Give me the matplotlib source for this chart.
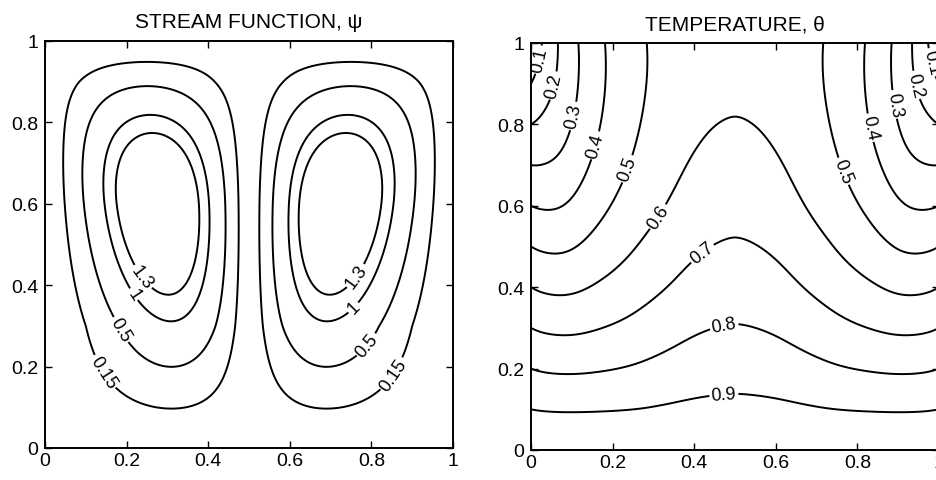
import numpy as np
import matplotlib.pyplot as plt
from matplotlib.ticker import FormatStrFormatter

plt.rcParams['font.family'] = ['Liberation Sans', 'DejaVu Sans']

# ---- stream function (two cells) ----
psi_levels = [0.15, 0.5, 1, 1.3]
psi_max = 1.89          # estimated peak value
psi_peak_y = 0.6        # height of the cell centres
psi_peak_s = 0.56       # centre of a cell, fraction of its half-width
psi_tilt = 0.2          # cell centre drifts right towards the bottom
psi_exp_x = 1.53
psi_exp_y_low = 1.25
psi_exp_y_high = 1.65
psi_label_pos = [(0.241, 0.422), (0.212, 0.374), (0.155, 0.274), (0.118, 0.17),
                 (0.763, 0.422), (0.755, 0.346), (0.804, 0.24), (0.869, 0.17)]

# ---- temperature ----
theta_levels = [0.1, 0.2, 0.3, 0.4, 0.5, 0.6, 0.7, 0.8, 0.9]
top_d = [0, 0.021, 0.065, 0.114, 0.178, 0.276, 0.379, 0.44, 0.5]   # distance from side wall
top_theta = [0, 0.1, 0.2, 0.3, 0.4, 0.5, 0.54, 0.555, 0.56]      # theta along the top edge
beta_d = [0, 0.052, 0.093, 0.141, 0.222, 0.31, 0.379, 0.419, 0.5]
beta_top = [6.5, 5.4, 3.8, 2.85, 2.25, 1.93, 1.6, 1.5, 1.4]
beta_low = [6.5, 5.4, 3.8, 2.85, 2.25, 1.6, 1.4, 1.35, 1.3]
dip = 0.025
theta_label_pos = [(0.028, 0.957), (0.052, 0.896), (0.093, 0.823), (0.141, 0.753),
                   (0.222, 0.696), (0.31, 0.574), (0.419, 0.484), (0.472, 0.312),
                   (0.472, 0.145), (0.972, 0.95), (0.94, 0.896), (0.903, 0.851),
                   (0.843, 0.794), (0.774, 0.688)]

x = np.linspace(0, 1, 401)
y = np.linspace(0, 1, 401)
X, Y = np.meshgrid(x, y)
D = np.minimum(X, 1 - X)

# stream function field
s = D / 0.5
s_peak = np.clip(psi_peak_s + psi_tilt * (psi_peak_y - Y), 0.5, 0.62)
a = np.log(0.5) / np.log(s_peak)
F = np.sin(np.pi * s ** a).clip(0) ** psi_exp_x
b = np.log(0.5) / np.log(psi_peak_y)
q = np.where(Y < psi_peak_y, psi_exp_y_low, psi_exp_y_high)
G = np.sin(np.pi * Y ** b).clip(0) ** q
psi = psi_max * F * G


def smooth(v, sigma):
    # gaussian smoothing of a profile along x, odd reflection at the walls
    n = int(3 * sigma)
    k = np.exp(-0.5 * (np.arange(-n, n + 1) / sigma) ** 2)
    k /= k.sum()
    vp = np.pad(v, n, mode='reflect', reflect_type='odd')
    return np.convolve(vp, k, mode='valid')


# temperature field
d1 = np.minimum(x, 1 - x)
tp = smooth(np.interp(d1, top_d, top_theta), 8)
bt = smooth(np.interp(d1, beta_d, beta_top), 12)
bl = smooth(np.interp(d1, beta_d, beta_low), 12)
w = (1 - Y) ** 2
be = bl[None, :] * w + bt[None, :] * (1 - w)
lobe = (D / 0.1) * np.exp(1 - D / 0.1)
theta = 1 - Y + tp[None, :] * Y ** be - dip * lobe * np.sin(np.pi * Y)

fig = plt.figure(figsize=(9.37, 4.81), dpi=100)
ax1 = fig.add_axes([45 / 937, 32 / 481, 408 / 937, 407 / 481])
ax2 = fig.add_axes([531 / 937, 30 / 481, 408 / 937, 407 / 481])

cs1 = ax1.contour(X, Y, psi, levels=psi_levels, colors='black', linewidths=1.4)
ax1.clabel(cs1, fmt='%g', fontsize=13, inline=True, inline_spacing=2, manual=psi_label_pos)
ax1.set_title('STREAM FUNCTION, ψ', fontsize=15, pad=10)

cs2 = ax2.contour(X, Y, theta, levels=theta_levels, colors='black', linewidths=1.4)
ax2.clabel(cs2, fmt='%g', fontsize=13, inline=True, inline_spacing=2, manual=theta_label_pos)
ax2.set_title('TEMPERATURE, θ', fontsize=15, pad=10)

for ax in (ax1, ax2):
    ax.set_xlim(0, 1)
    ax.set_ylim(0, 1)
    ax.set_xticks(np.arange(0, 1.01, 0.2))
    ax.set_yticks(np.arange(0, 1.01, 0.2))
    ax.xaxis.set_major_formatter(FormatStrFormatter('%g'))
    ax.yaxis.set_major_formatter(FormatStrFormatter('%g'))
    ax.tick_params(direction='in', top=True, right=True, length=5, width=1,
                   labelsize=14)
    ax.tick_params(axis='x', pad=3)
    ax.tick_params(axis='y', pad=5)
    for sp in ax.spines.values():
        sp.set_linewidth(1.4)

fig.savefig('out.png', dpi=100)
